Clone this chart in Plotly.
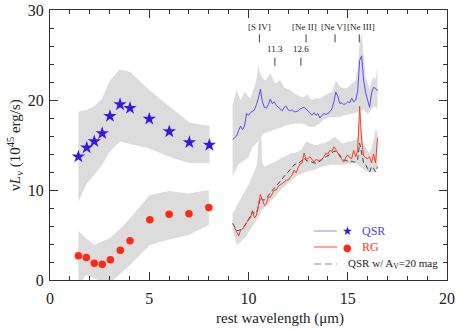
import plotly.graph_objects as go

# ---------------- data ----------------
# photometric points (rest wavelength, micron)
phot_wl_qsr = [1.43, 1.85, 2.23, 2.63, 3.02, 3.53, 4.03, 5.0, 6.01, 7.02, 8.03]
phot_qsr = [13.7, 14.7, 15.4, 16.3, 18.2, 19.5, 19.1, 17.9, 16.5, 15.3, 15.0]
phot_qsr_hi = [18.7, 18.9, 19.3, 20.2, 22.2, 23.4, 23.1, 21.1, 19.3, 17.5, 17.1]
phot_qsr_lo = [8.7, 10.7, 11.7, 12.8, 14.3, 15.4, 15.1, 14.6, 13.7, 13.0, 13.0]

phot_wl_rg = [1.43, 1.83, 2.23, 2.63, 3.04, 3.54, 4.03, 5.03, 6.0, 7.0, 8.0]
phot_rg = [2.7, 2.5, 1.85, 1.75, 2.25, 3.3, 4.35, 6.7, 7.3, 7.35, 8.05]
phot_rg_hi = [5.44, 4.6, 3.9, 4.26, 4.7, 5.7, 6.85, 9.44, 9.9, 9.6, 10.0]
phot_rg_lo = [-0.5, 0.55, 0.2, -0.3, -0.3, 0.74, 1.67, 3.9, 4.5, 5.0, 6.1]

# IRS spectra
spec_wl = [9.2, 9.3, 9.4, 9.5, 9.6, 9.7, 9.8, 9.9, 10.0, 10.1, 10.2, 10.3, 10.4, 10.5,
           10.6, 10.7, 10.8, 10.9, 11.0, 11.1, 11.2, 11.3, 11.4, 11.5, 11.6, 11.7, 11.8,
           11.9, 12.0, 12.1, 12.2, 12.3, 12.4, 12.5, 12.6, 12.7, 12.8, 12.9, 13.0, 13.1,
           13.2, 13.3, 13.4, 13.5, 13.6, 13.7, 13.8, 13.9, 14.0, 14.1, 14.2, 14.3, 14.4,
           14.5, 14.6, 14.7, 14.8, 14.9, 15.0, 15.1, 15.2, 15.3, 15.4, 15.5, 15.6, 15.7,
           15.8, 15.9, 16.0, 16.1, 16.2, 16.3, 16.4, 16.5]

spec_qsr = [15.6, 15.8, 16.0, 16.6, 17.1, 16.7, 17.1, 18.5, 18.3, 18.6, 18.8, 18.9, 19.5, 20.2,
            21.2, 19.8, 19.2, 19.1, 19.5, 20.1, 19.6, 19.8, 19.4, 19.2, 19.0, 18.8, 19.2,
            19.3, 18.9, 18.8, 18.9, 18.7, 18.7, 18.8, 19.0, 19.1, 19.2, 19.0, 18.8, 18.5,
            18.3, 18.6, 18.3, 18.5, 18.0, 18.3, 18.5, 18.4, 18.5, 18.7, 19.0, 19.8, 20.9,
            20.4, 19.6, 19.7, 19.5, 19.6, 19.8, 19.7, 20.2, 19.8, 20.0, 21.0, 24.4, 24.9,
            22.2, 20.8, 19.9, 19.2, 20.8, 21.4, 21.3, 21.0]
spec_qsr_hi = [19.4, 20.2, 21.1, 20.5, 20.0, 20.4, 20.9, 20.7, 20.3, 20.2, 20.8, 21.5, 22.2, 23.9,
               22.8, 22.5, 22.2, 22.3, 22.6, 23.0, 22.5, 22.0, 21.9, 22.1, 22.2, 21.8, 21.4,
               21.3, 21.2, 21.1, 20.9, 20.7, 20.6, 20.5, 20.4, 20.3, 20.3, 20.6, 20.5, 20.2,
               20.0, 20.1, 20.2, 20.2, 20.2, 20.3, 20.5, 20.6, 20.7, 20.8, 20.9, 21.5, 22.2,
               21.8, 21.5, 21.4, 21.3, 21.3, 21.4, 21.6, 21.9, 22.0, 22.2, 23.5, 26.5, 27.4,
               24.4, 22.5, 21.9, 21.2, 22.0, 22.6, 22.3, 23.5]
spec_qsr_lo = [11.5, 12.0, 12.5, 12.9, 13.0, 13.2, 13.4, 13.5, 13.6, 14.2, 14.8, 15.0, 15.2, 15.4,
               15.6, 16.2, 16.3, 16.4, 16.5, 16.5, 16.6, 16.7, 16.8, 16.9, 16.9, 17.0, 17.1,
               17.2, 17.2, 17.3, 17.3, 17.4, 17.4, 17.4, 17.4, 17.4, 17.3, 17.2, 17.1, 17.0,
               17.0, 17.0, 17.1, 17.3, 17.4, 17.6, 17.8, 18.0, 18.0, 18.1, 18.1, 18.1, 18.1,
               18.1, 18.1, 18.2, 18.3, 18.3, 18.4, 18.4, 18.5, 18.5, 18.6, 18.7, 18.8, 18.9,
               18.9, 18.7, 18.5, 18.6, 18.9, 19.3, 19.2, 19.1]

spec_rg = [None, 5.8, 5.3, 4.9, 5.5, 5.7, 5.9, 6.4, 6.6, 6.9, 7.7, 6.9, 7.2, 8.3,
           9.5, 8.9, 8.3, 8.5, 9.2, 9.2, 9.6, 10.0, 10.0, 10.4, 10.6, 10.7, 10.9,
           11.1, 11.1, 11.4, 11.7, 12.2, 11.9, 12.5, 12.9, 13.0, 14.1, 13.4, 13.5, 13.7,
           13.4, 13.1, 13.4, 13.3, 13.3, 13.4, 13.7, 14.1, 14.0, 14.4, 14.3, 14.8, 14.5,
           14.0, 13.7, 13.4, 13.1, 13.6, 13.9, 13.6, 13.5, 14.4, 13.7, 14.4, 19.3, 15.5,
           13.8, 13.6, 13.5, 13.7, 13.0, 14.0, 13.0, 15.8]
spec_av = [6.3, 5.9, 5.5, 5.5, 5.6, 5.8, 6.0, 6.4, 6.7, 7.1, 7.6, 7.4, 7.5, 8.1,
           9.2, 8.9, 8.9, 9.0, 9.4, 9.7, 9.9, 10.2, 10.5, 10.7, 11.0, 11.3, 11.6,
           11.8, 12.0, 12.3, 12.6, 12.8, 12.9, 13.0, 13.1, 13.3, 13.6, 13.3, 13.2, 13.2,
           13.1, 13.0, 13.0, 13.1, 13.2, 13.4, 13.6, 13.7, 13.8, 14.0, 14.2, 14.3, 14.3,
           14.1, 13.9, 13.5, 13.3, 13.3, 13.2, 13.1, 13.2, 13.1, 13.1, 13.4, 15.2, 14.2,
           13.0, 12.8, 12.3, 12.0, 12.6, 12.4, 12.0, 12.6]
spec_rg_hi = [7.4, 7.8, 8.2, 8.6, 8.9, 9.3, 9.8, 10.2, 10.6, 11.0, 11.6, 12.2, 12.6, 15.0,
              18.0, 13.0, 12.6, 12.7, 12.8, 12.9, 13.0, 13.1, 13.2, 13.3, 13.5, 13.6, 13.7,
              13.8, 13.9, 14.0, 14.1, 14.1, 14.2, 14.3, 14.4, 14.6, 15.0, 15.4, 15.3, 15.2,
              15.1, 15.0, 15.0, 15.0, 15.1, 15.2, 15.2, 15.3, 15.4, 15.5, 15.7, 15.9, 15.8,
              15.6, 15.4, 15.2, 15.2, 15.3, 15.4, 15.4, 15.4, 15.5, 15.6, 15.8, 18.5, 16.5,
              15.2, 14.8, 14.3, 14.1, 14.6, 15.6, 16.7, 16.5]
spec_rg_lo = [5.7, 4.8, 3.9, 4.0, 4.2, 4.4, 4.6, 4.9, 5.3, 5.6, 5.9, 6.3, 6.6, 7.0,
              7.4, 7.8, 8.0, 8.3, 8.5, 8.7, 8.9, 9.1, 9.4, 9.7, 10.0, 10.2, 10.4,
              10.6, 10.8, 11.0, 11.2, 11.3, 11.5, 11.6, 11.7, 11.8, 11.9, 12.0, 12.1, 12.1,
              12.2, 12.2, 12.3, 12.4, 12.5, 12.6, 12.6, 12.7, 12.7, 12.8, 12.8, 12.8, 12.8,
              12.8, 12.8, 12.8, 12.8, 12.8, 12.9, 12.9, 13.0, 13.0, 13.0, 12.8, 12.6, 12.5,
              12.3, 12.1, 12.0, 12.0, 12.0, 12.0, 12.2, 12.6]

# line identifications
line_names = ["[S IV]", "[Ne II]", "[Ne V]", "[Ne III]"]
line_wl = [10.55, 12.9, 14.36, 15.58]
line_label_x = [10.55, 12.83, 14.27, 15.66]
pah_names = ["11.3", "12.6"]
pah_wl = [11.33, 12.64]

# ---------------- styling ----------------
SERIF = "Liberation Serif"
GREY = "#dcdcdc"
BLUE = "#3a14e6"
BLUE_LINE = "#4f3cf0"
RED = "#ff2a10"
AX = "#333333"

fig = go.Figure()


def band(x, lo, hi):
    fig.add_trace(go.Scatter(x=x, y=lo, mode="lines", line=dict(width=0, color=GREY),
                             showlegend=False, hoverinfo="skip"))
    fig.add_trace(go.Scatter(x=x, y=hi, mode="lines", line=dict(width=0, color=GREY),
                             fill="tonexty", fillcolor=GREY, showlegend=False, hoverinfo="skip"))


band(phot_wl_qsr, phot_qsr_lo, phot_qsr_hi)
band(phot_wl_rg, phot_rg_lo, phot_rg_hi)
band(spec_wl, spec_qsr_lo, spec_qsr_hi)
band(spec_wl, spec_rg_lo, spec_rg_hi)

fig.add_trace(go.Scatter(x=spec_wl, y=spec_av, mode="lines",
                         line=dict(color="#333333", width=0.9, dash="5px,3px"),
                         name="QSR w/ Av=20 mag", showlegend=False))
fig.add_trace(go.Scatter(x=spec_wl, y=spec_rg, mode="lines",
                         line=dict(color=RED, width=0.9), name="RG", showlegend=False))
fig.add_trace(go.Scatter(x=spec_wl, y=spec_qsr, mode="lines",
                         line=dict(color=BLUE_LINE, width=0.9), name="QSR", showlegend=False))

fig.add_trace(go.Scatter(x=phot_wl_qsr, y=phot_qsr, mode="markers",
                         marker=dict(symbol="star", size=10, color=BLUE, line=dict(width=0)),
                         showlegend=False))
fig.add_trace(go.Scatter(x=phot_wl_rg, y=phot_rg, mode="markers",
                         marker=dict(symbol="circle", size=7.5, color=RED, line=dict(width=0)),
                         showlegend=False))

shapes = []
annotations = []

# line id labels and ticks
for name, wl, lx in zip(line_names, line_wl, line_label_x):
    annotations.append(dict(x=lx, y=28.07, xref="x", yref="y", text=name, showarrow=False,
                            xanchor="center", yanchor="middle",
                            font=dict(family=SERIF, size=9, color="#222")))
    shapes.append(dict(type="line", xref="x", yref="y", x0=wl, x1=wl, y0=26.4, y1=27.3,
                       line=dict(color="#444", width=1)))
for name, wl in zip(pah_names, pah_wl):
    annotations.append(dict(x=wl, y=25.7, xref="x", yref="y", text=name, showarrow=False,
                            xanchor="center", yanchor="middle",
                            font=dict(family=SERIF, size=9, color="#222")))
    shapes.append(dict(type="line", xref="x", yref="y", x0=wl, x1=wl, y0=23.8, y1=24.7,
                       line=dict(color="#444", width=1)))


# manual legend (paper coordinates derived from pixel positions)
def px_x(p):
    return (p - 50) / 397.0


def px_y(p):
    return (280 - p) / 270.0


leg_rows = [231, 247, 264]
shapes.append(dict(type="line", xref="paper", yref="paper", x0=px_x(314), x1=px_x(337),
                   y0=px_y(leg_rows[0]), y1=px_y(leg_rows[0]), line=dict(color="#a89cf4", width=1.2)))
shapes.append(dict(type="line", xref="paper", yref="paper", x0=px_x(314), x1=px_x(337),
                   y0=px_y(leg_rows[1]), y1=px_y(leg_rows[1]), line=dict(color="#ff4a35", width=1)))
shapes.append(dict(type="line", xref="paper", yref="paper", x0=px_x(314), x1=px_x(337),
                   y0=px_y(leg_rows[2]), y1=px_y(leg_rows[2]),
                   line=dict(color="#888888", width=1.2, dash="7px,4px")))


def ann(x, y, text, size, color, family=SERIF, xanchor="center", **kw):
    annotations.append(dict(x=x, y=y, xref="paper", yref="paper", text=text, showarrow=False,
                            xanchor=xanchor, yanchor="middle",
                            font=dict(family=family, size=size, color=color), **kw))


ann(px_x(347), px_y(leg_rows[0]), "★", 12, BLUE, family="DejaVu Sans")
ann(px_x(347), px_y(leg_rows[1]), "●", 10, RED, family="DejaVu Sans")
ann(px_x(360), px_y(leg_rows[0]), "QSR", 12, "#5a3cf0", xanchor="left")
ann(px_x(360), px_y(leg_rows[1]), "RG", 12, "#ff3a20", xanchor="left")
ann(px_x(346), px_y(leg_rows[2]), "QSR w/ A<sub>V</sub>=20 mag", 11, "#222", xanchor="left")

# axis titles
ann(px_x(280), px_y(318), "rest wavelength (μm)", 15, "#222")
ann(px_x(15), 0.5, "ν<i>L</i><sub>ν</sub> (10<sup>45</sup> erg/s)", 15, "#222", textangle=-90)

axis_common = dict(showline=True, linecolor=AX, linewidth=1, mirror="ticks", ticks="inside",
                   tickcolor=AX, ticklen=8, tickwidth=1, showgrid=False, zeroline=False,
                   tickfont=dict(family=SERIF, size=16, color="#222"))

fig.update_layout(
    width=462, height=330,
    margin=dict(l=50, r=15, t=10, b=50, autoexpand=False),
    plot_bgcolor="white", paper_bgcolor="white",
    font=dict(family=SERIF),
    xaxis=dict(range=[0, 20], dtick=5, tick0=0, automargin=False,
               minor=dict(dtick=1, ticks="inside", ticklen=4, tickcolor=AX),
               ticklabelstandoff=4, **axis_common),
    yaxis=dict(range=[0, 30], dtick=10, tick0=0, automargin=False,
               minor=dict(dtick=2, ticks="inside", ticklen=4, tickcolor=AX),
               ticklabelstandoff=2, **axis_common),
    shapes=shapes, annotations=annotations,
    showlegend=False,
)

fig.write_html("out.html", config={"displayModeBar": False},
               post_script="document.body.style.margin='0';document.body.style.padding='0';")
